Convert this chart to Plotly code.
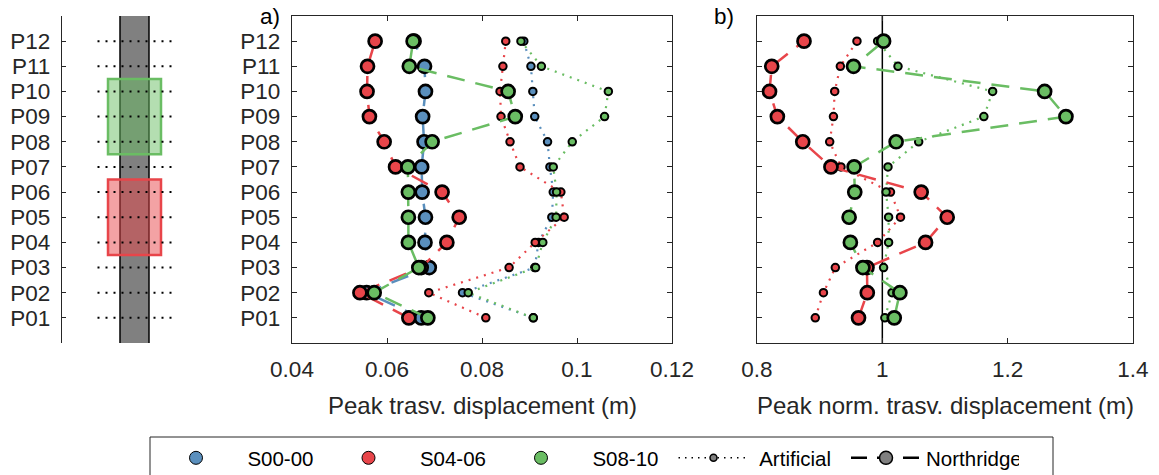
import plotly.graph_objects as go

# ---------------- data ----------------
positions = ["P01", "P02", "P03", "P04", "P05", "P06",
             "P07", "P08", "P09", "P10", "P11", "P12"]
levels = list(range(1, 13))

# Panel a: peak transversal displacement (m)
s0000_north = [0.0672, 0.0557, 0.0689, 0.0680, 0.0681, 0.0674, 0.0673, 0.0678, 0.0675, 0.0681, 0.0679, 0.0657]
s0406_north = [0.0646, 0.0543, 0.0672, 0.0726, 0.0752, 0.0716, 0.0618, 0.0594, 0.0563, 0.0558, 0.0559, 0.0575]
s0810_north = [0.0686, 0.0573, 0.0667, 0.0645, 0.0645, 0.0645, 0.0644, 0.0695, 0.0870, 0.0855, 0.0647, 0.0655]
s0000_art = [0.0908, 0.0759, 0.0911, 0.0919, 0.0947, 0.0950, 0.0943, 0.0938, 0.0911, 0.0907, 0.0903, 0.0888]
s0406_art = [0.0808, 0.0688, 0.0857, 0.0912, 0.0973, 0.0966, 0.0880, 0.0859, 0.0840, 0.0838, 0.0844, 0.0850]
s0810_art = [0.0908, 0.0771, 0.0913, 0.0928, 0.0956, 0.0957, 0.0950, 0.0990, 0.1058, 0.1066, 0.0925, 0.0882]

# Panel b: normalized peak transversal displacement
s0406_north_norm = [0.962, 0.976, 0.9755, 1.069, 1.1035, 1.062, 0.918, 0.873, 0.8325, 0.820, 0.8235, 0.875]
s0810_north_norm = [1.019, 1.028, 0.969, 0.949, 0.947, 0.956, 0.955, 1.022, 1.293, 1.259, 0.954, 1.002]
s0406_art_norm = [0.893, 0.906, 0.925, 0.9925, 1.029, 1.013, 0.934, 0.916, 0.922, 0.924, 0.933, 0.9595]
s0810_art_norm = [1.004, 1.0155, 1.002, 1.010, 1.010, 1.006, 1.009, 1.058, 1.162, 1.176, 1.025, 0.9925]

# Schematic: retrofit zones
zone_green_levels = [8, 9, 10]
zone_red_levels = [4, 5, 6]

a_ticks = [0.04, 0.06, 0.08, 0.10, 0.12]
a_ticktext = ["0.04", "0.06", "0.08", "0.1", "0.12"]
b_ticks = [0.8, 1.0, 1.2, 1.4]
b_ticktext = ["0.8", "1", "1.2", "1.4"]

series_names = ["S00-00", "S04-06", "S08-10"]

# ---------------- style ----------------
BLUE = "#5a8fbd"
RED = "#e8454a"
GREEN = "#6abd63"
AX = "#262626"
FONT = "Liberation Sans"
W, H = 1159, 475
TOP, BOT = 16, 343
PLOT_H = BOT - TOP


def px_x(p):
    return p / W


def px_y(p):
    return (BOT - p) / PLOT_H


N_DASH = "18px,11px"
A_DOT = "2px,6px"

fig = go.Figure()


def add_series(xvals, color, big, xa, ya):
    if big:
        line = dict(color=color, width=2.5, dash=N_DASH)
        marker = dict(color=color, size=13, line=dict(color="black", width=2.7))
    else:
        line = dict(color=color, width=2.2, dash=A_DOT)
        marker = dict(color=color, size=7.5, line=dict(color="black", width=2))
    fig.add_trace(go.Scatter(x=xvals, y=levels, mode="lines+markers",
                             line=line, marker=marker, showlegend=False,
                             xaxis=xa, yaxis=ya, cliponaxis=False))


# panel a
for vals, c in [(s0000_art, BLUE), (s0406_art, RED), (s0810_art, GREEN)]:
    add_series(vals, c, False, "x", "y")
for vals, c in [(s0000_north, BLUE), (s0406_north, RED), (s0810_north, GREEN)]:
    add_series(vals, c, True, "x", "y")
# panel b
for vals, c in [(s0406_art_norm, RED), (s0810_art_norm, GREEN)]:
    add_series(vals, c, False, "x2", "y2")
for vals, c in [(s0406_north_norm, RED), (s0810_north_norm, GREEN)]:
    add_series(vals, c, True, "x2", "y2")

# schematic dotted level lines
DOT_HALF = 37
for lv in levels:
    fig.add_trace(go.Scatter(x=[-DOT_HALF, DOT_HALF], y=[lv, lv], mode="lines",
                             line=dict(color="black", width=2, dash="2px,6px"),
                             showlegend=False, xaxis="x3", yaxis="y3"))

# legend entries
for name, c in zip(series_names, [BLUE, RED, GREEN]):
    fig.add_trace(go.Scatter(x=[None], y=[None], mode="markers", name="\u00a0" * 2 + name,
                             marker=dict(color=c, size=13, line=dict(color="black", width=1)),
                             xaxis="x", yaxis="y"))
fig.add_trace(go.Scatter(x=[None], y=[None], mode="lines+markers", name="\u00a0" + "Artificial",
                         line=dict(color="black", width=1.5, dash="1.5px,5px"),
                         marker=dict(color="#808080", size=7, line=dict(color="black", width=1.5)),
                         xaxis="x", yaxis="y"))
fig.add_trace(go.Scatter(x=[None], y=[None], mode="lines+markers", name="Northridge",
                         line=dict(color="black", width=2.5, dash="16px,10px"),
                         marker=dict(color="#808080", size=13, line=dict(color="black", width=1.5)),
                         xaxis="x", yaxis="y"))

# ---------------- shapes ----------------
shapes = []
BAND = 14.5
shapes.append(dict(type="rect", xref="x3", yref="y3", x0=-BAND, x1=BAND, y0=-1, y1=14,
                   fillcolor="#808080", line=dict(width=0), layer="below"))
for xe in (-BAND, BAND):
    shapes.append(dict(type="line", xref="x3", yref="y3", x0=xe, x1=xe, y0=-1, y1=14,
                       line=dict(color="black", width=1.5), layer="below"))
ZONE = 26.5
for lv_list, c, fill in [(zone_green_levels, GREEN, "rgba(106,189,99,0.5)"),
                         (zone_red_levels, RED, "rgba(232,69,74,0.5)")]:
    shapes.append(dict(type="rect", xref="x3", yref="y3", x0=-ZONE, x1=ZONE,
                       y0=min(lv_list) - 0.5, y1=max(lv_list) + 0.5,
                       fillcolor=fill, line=dict(color=c, width=2.5), layer="below"))
# reference line at 1 in panel b
shapes.append(dict(type="line", xref="x2", yref="y2 domain", x0=1, x1=1, y0=0, y1=1,
                   line=dict(color="black", width=1.5), layer="below"))
# legend box
shapes.append(dict(type="rect", xref="paper", yref="paper", x0=px_x(150), x1=px_x(1053),
                   y0=px_y(437), y1=px_y(495), line=dict(color=AX, width=1),
                   fillcolor="rgba(0,0,0,0)"))

tickfont = dict(family=FONT, size=22.5, color=AX)
common_x = dict(showline=True, linecolor=AX, linewidth=1.2, mirror="ticks", ticks="inside",
                ticklen=5, tickcolor=AX, tickwidth=1, showgrid=False, zeroline=False,
                tickfont=tickfont, ticklabelstandoff=6, automargin=False)
common_y = dict(showline=True, linecolor=AX, linewidth=1.2, mirror="ticks", ticks="inside",
                ticklen=5, tickcolor=AX, tickwidth=1, showgrid=False, zeroline=False,
                tickfont=tickfont, range=[0, 13], tickvals=levels, ticktext=positions,
                ticklabelstandoff=6, automargin=False)

title_font = dict(family=FONT, size=24, color=AX)
annotations = [
    dict(text="Peak trasv. displacement (m)", xref="x domain", yref="paper", x=0.5, y=px_y(405),
         xanchor="center", yanchor="middle", showarrow=False, font=title_font),
    dict(text="Peak norm. trasv. displacement (m)", xref="x2 domain", yref="paper", x=0.5, y=px_y(405),
         xanchor="center", yanchor="middle", showarrow=False, font=title_font),
    dict(text="a)", xref="paper", yref="paper", x=px_x(269.5), y=px_y(16),
         xanchor="center", yanchor="middle", showarrow=False, font=dict(family=FONT, size=22.5, color="black")),
    dict(text="b)", xref="paper", yref="paper", x=px_x(724), y=px_y(16),
         xanchor="center", yanchor="middle", showarrow=False, font=dict(family=FONT, size=22.5, color="black")),
]

fig.update_layout(
    template="none",
    width=W, height=H,
    margin=dict(l=0, r=0, t=TOP, b=H - BOT, pad=0, autoexpand=False),
    paper_bgcolor="white", plot_bgcolor="rgba(0,0,0,0)",
    font=dict(family=FONT, color=AX),
    xaxis=dict(domain=[px_x(292), px_x(672)], range=[0.04, 0.12], tickvals=a_ticks,
               ticktext=a_ticktext, anchor="y", **common_x),
    yaxis=dict(domain=[0, 1], anchor="x", **common_y),
    xaxis2=dict(domain=[px_x(757), px_x(1133)], range=[0.8, 1.4], tickvals=b_ticks,
                ticktext=b_ticktext, anchor="y2", **common_x),
    yaxis2=dict(domain=[0, 1], anchor="x2", showticklabels=False, **common_y),
    xaxis3=dict(domain=[px_x(62), px_x(207)], range=[-72.5, 72.5], visible=False, anchor="y3",
                automargin=False),
    yaxis3=dict(domain=[0, 1], anchor="x3", range=[0, 13], tickvals=levels, ticktext=positions,
                showline=True, linecolor=AX, linewidth=1.2, mirror=False, ticks="inside",
                ticklen=4, tickcolor=AX, showgrid=False, zeroline=False, tickfont=tickfont,
                ticklabelstandoff=6, automargin=False),
    shapes=shapes,
    annotations=annotations,
    showlegend=True,
    legend=dict(orientation="h", x=px_x(156), y=px_y(438), xanchor="left", yanchor="top",
                bgcolor="rgba(0,0,0,0)", borderwidth=0, font=dict(family=FONT, size=20.5, color="black"),
                itemwidth=70, entrywidth=87.5, entrywidthmode="pixels", tracegroupgap=0),
)

fig.write_html("out.html", config={"displayModeBar": False},
               post_script="document.body.style.margin='0';document.body.style.padding='0';"
                           "document.body.style.overflow='hidden';")
